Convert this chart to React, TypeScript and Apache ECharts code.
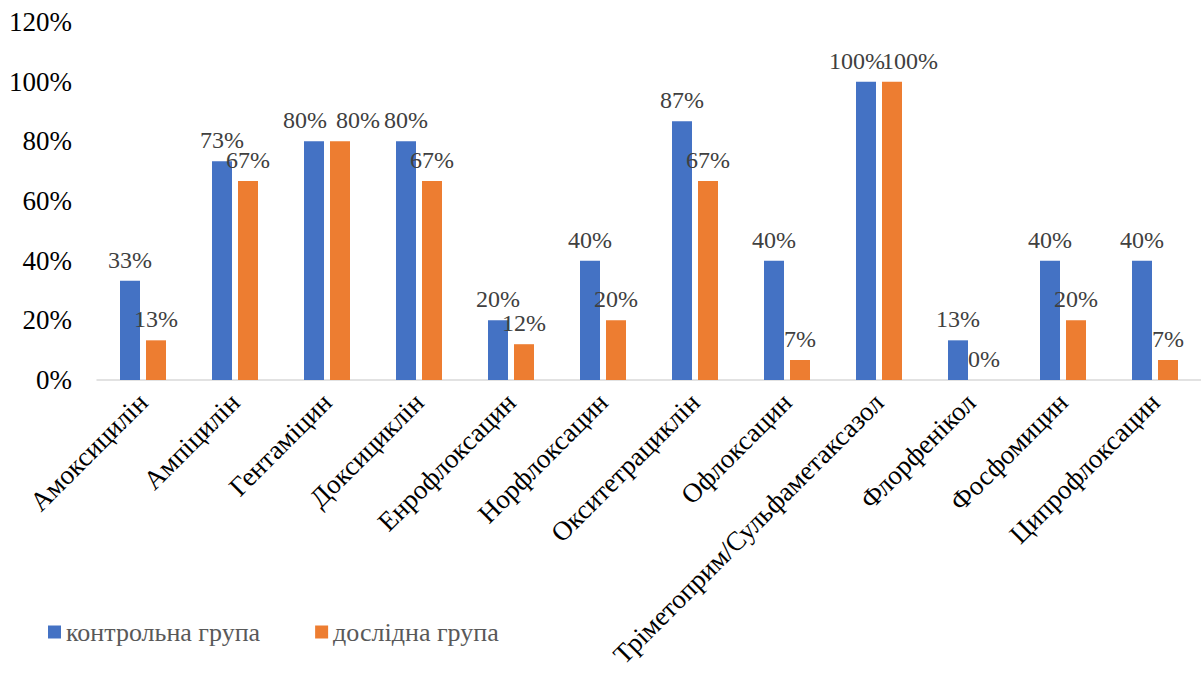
import React, { useEffect, useRef } from "react";
import * as echarts from "echarts";

const categories = [
  "Амоксицилін",
  "Ампіцилін",
  "Гентаміцин",
  "Доксициклін",
  "Енрофлоксацин",
  "Норфлоксацин",
  "Окситетрациклін",
  "Офлоксацин",
  "Тріметоприм/Сульфаметаксазол",
  "Флорфенікол",
  "Фосфомицин",
  "Ципрофлоксацин",
];
const controlGroup = [33.3, 73.3, 80, 80, 20, 40, 86.7, 40, 100, 13.3, 40, 40];
const experimentalGroup = [13.3, 66.7, 80, 66.7, 12, 20, 66.7, 6.7, 100, 0, 20, 6.7];
const seriesNames = ["контрольна група", "дослідна група"];
const yTicks = { min: 0, max: 120, interval: 20 };

const serif = "Liberation Serif";

export default function App() {
  const ref = useRef<HTMLDivElement>(null);
  useEffect(() => {
    if (!ref.current) return;
    const chart = echarts.init(ref.current, null, { renderer: "svg" });
    const label = {
      show: true,
      position: "top" as const,
      distance: 9,
      fontFamily: serif,
      fontSize: 24,
      color: "#404040",
      formatter: (p: any) => Math.round(p.value) + "%",
    };
    // shift labels apart where both groups have the same value (they would collide)
    const withOffsets = (values: number[], other: number[], dx: number) =>
      values.map((v, i) =>
        v === other[i] && v > 0 ? { value: v, label: { offset: [dx, 0] } } : v
      );
    chart.setOption({
      animation: false,
      textStyle: { fontFamily: serif },
      grid: { left: 97, top: 22, width: 1116, height: 358, containLabel: false },
      legend: {
        left: 43,
        top: 614,
        itemWidth: 13,
        itemHeight: 13,
        itemGap: 55,
        icon: "rect",
        textStyle: { fontFamily: serif, fontSize: 26, color: "#595959" },
        data: seriesNames,
      },
      xAxis: {
        type: "category",
        data: categories,
        axisLine: { lineStyle: { color: "#d9d9d9", width: 1.5 } },
        axisTick: { show: false },
        axisLabel: {
          interval: 0,
          rotate: 45,
          margin: 18,
          fontFamily: serif,
          fontSize: 27,
          color: "#000",
        },
      },
      yAxis: {
        type: "value",
        min: yTicks.min,
        max: yTicks.max,
        interval: yTicks.interval,
        splitLine: { show: false },
        axisLine: { show: false },
        axisTick: { show: false },
        axisLabel: {
          formatter: "{value}%",
          margin: 25,
          fontFamily: serif,
          fontSize: 27,
          color: "#000",
        },
      },
      series: [
        {
          name: seriesNames[0],
          type: "bar",
          data: withOffsets(controlGroup, experimentalGroup, -9),
          barWidth: 20,
          barGap: "30%",
          itemStyle: { color: "#4472C4" },
          label,
        },
        {
          name: seriesNames[1],
          type: "bar",
          data: withOffsets(experimentalGroup, controlGroup, 18),
          barWidth: 20,
          itemStyle: { color: "#ED7D31" },
          label,
        },
      ],
    });
    return () => chart.dispose();
  }, []);
  return (
    <div
      ref={ref}
      style={{ position: "fixed", left: 0, top: 0, width: 1201, height: 673, background: "#fff" }}
    />
  );
}
